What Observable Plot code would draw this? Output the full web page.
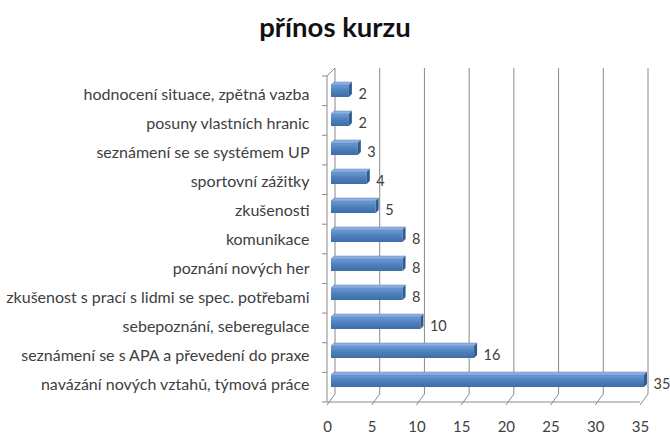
<!DOCTYPE html>
<html>
<head>
<meta charset="utf-8">
<script src="https://cdn.jsdelivr.net/npm/d3@7"></script>
<script src="https://cdn.jsdelivr.net/npm/@observablehq/plot@0.6"></script>
<style>
  body { margin: 0; background: #fff; }
  #wrap { width: 670px; }
  #title { font: bold 27.5px Lato, "Open Sans", sans-serif; color: #111; text-align: center; height: 50px; line-height: 54px; }
</style>
</head>
<body>
<div id="wrap">
  <div id="title">přínos kurzu</div>
  <div id="chart"></div>
</div>
<script>
const categories = [
  "hodnocení situace, zpětná vazba",
  "posuny vlastních hranic",
  "seznámení se se systémem UP",
  "sportovní zážitky",
  "zkušenosti",
  "komunikace",
  "poznání nových her",
  "zkušenost s prací s lidmi se spec. potřebami",
  "sebepoznání, seberegulace",
  "seznámení se s APA a převedení do praxe",
  "navázání nových vztahů, týmová práce"
];
const values = [2, 2, 3, 4, 5, 8, 8, 8, 10, 16, 35];
const xTicks = [0, 5, 10, 15, 20, 25, 30, 35];

const data = categories.map((c, i) => ({category: c, value: values[i]}));

const DEPTH = 8;   // 3D depth offset of back wall
const BAR_D = 4;   // bar offset from front plane

// back wall, floor and front axis lines (3D frame), drawn from the scales
function frame3d(index, scales, values, dims) {
  const x = scales.x;
  const g = d3.create("svg:g");
  const top = dims.marginTop, bottom = dims.height - dims.marginBottom;
  const x0 = x(0);
  for (const t of xTicks) {
    const px = x(t);
    g.append("line").attr("x1", px + DEPTH).attr("x2", px + DEPTH)
      .attr("y1", top - DEPTH).attr("y2", bottom - DEPTH)
      .attr("stroke", "#8a8a8a").attr("stroke-width", 1);
    g.append("line").attr("x1", px).attr("y1", bottom + 3)
      .attr("x2", px + DEPTH).attr("y2", bottom - DEPTH)
      .attr("stroke", "#8a8a8a");
  }
  g.append("line").attr("x1", x0).attr("x2", x(35)).attr("y1", bottom).attr("y2", bottom).attr("stroke", "#8a8a8a");
  g.append("line").attr("x1", x0).attr("x2", x0).attr("y1", top).attr("y2", bottom).attr("stroke", "#8a8a8a");
  g.append("line").attr("x1", x0).attr("x2", x0 + DEPTH).attr("y1", top).attr("y2", top - DEPTH).attr("stroke", "#8a8a8a");
  const n = categories.length, step = (bottom - top) / n;
  for (let i = 0; i <= n; i++) {
    g.append("line").attr("x1", x0 - 5).attr("x2", x0).attr("y1", top + i * step).attr("y2", top + i * step).attr("stroke", "#8a8a8a");
  }
  return g.node();
}

// 3D top and side faces of bars
function barFaces(index, scales, vals, dims) {
  const x = scales.x, y = scales.y;
  const bw = typeof y.bandwidth === "function" ? y.bandwidth() : y.bandwidth;
  const g = d3.create("svg:g");
  const s = 3;
  for (const d of data) {
    const x1 = x(0) + BAR_D, x2 = x(d.value) + BAR_D;
    const y1 = y(d.category) - BAR_D + 1, y2 = y1 + bw;
    g.append("path").attr("d", `M${x1},${y1}L${x1 + s},${y1 - s}L${x2 + s},${y1 - s}L${x2},${y1}Z`)
      .attr("fill", "#8db0de").attr("stroke", "#5b86bd").attr("stroke-width", 0.5);
    g.append("path").attr("d", `M${x2},${y1}L${x2 + s},${y1 - s}L${x2 + s},${y2 - s}L${x2},${y2}Z`)
      .attr("fill", "#2f5a92");
  }
  return g.node();
}

const plot = Plot.plot({
  width: 670,
  height: 394,
  marginTop: 26,
  marginBottom: 42,
  marginLeft: 327,
  marginRight: 30,
  style: {fontFamily: "Lato, 'Open Sans', sans-serif", fontSize: "15px", color: "#404040", background: "#fff"},
  x: {domain: [0, 35], ticks: xTicks, tickSize: 0, tickPadding: 19, label: null},
  y: {domain: categories, paddingInner: 0.57, paddingOuter: 0.285, tickSize: 0, tickPadding: 18, label: null},
  marks: [
    frame3d,
    Plot.barX(data, {x: "value", y: "category", fill: "url(#barGrad)", dx: BAR_D, dy: 1 - BAR_D}),
    barFaces,
    Plot.text(data, {x: "value", y: "category", text: d => String(d.value), textAnchor: "start", dx: 13, dy: 0, fontSize: 14.5, fill: "#404040"})
  ]
});

const svg = d3.select(plot);
svg.selectAll('g[aria-label^="y-axis"]').attr("font-size", 16);
const defs = svg.insert("defs", ":first-child");
const grad = defs.append("linearGradient").attr("id", "barGrad").attr("x1", 0).attr("y1", 0).attr("x2", 0).attr("y2", 1);
grad.append("stop").attr("offset", "0%").attr("stop-color", "#6f9ad3");
grad.append("stop").attr("offset", "45%").attr("stop-color", "#4f81bd");
grad.append("stop").attr("offset", "100%").attr("stop-color", "#3d6ca8");

document.getElementById("chart").appendChild(plot);
</script>
</body>
</html>
